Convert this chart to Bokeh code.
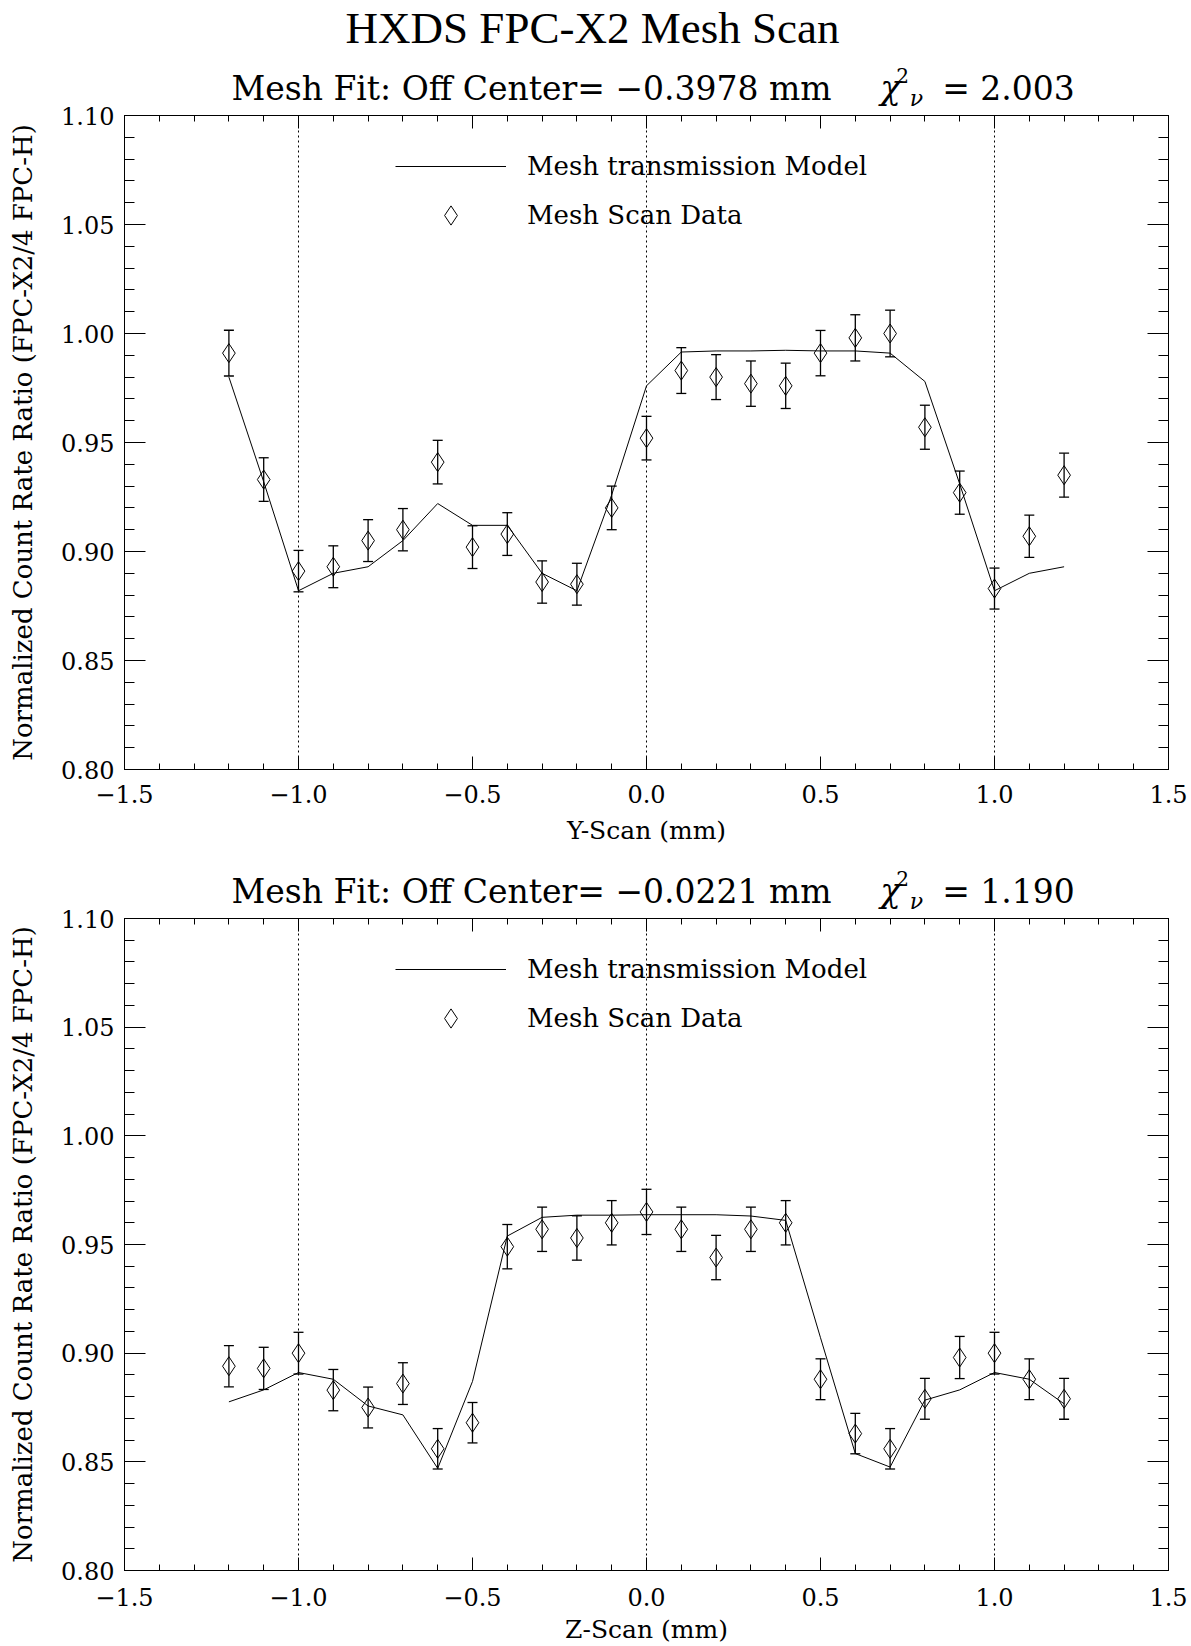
import numpy as np
from bokeh.plotting import figure
from bokeh.models import (Range1d, LinearAxis, FixedTicker, Span, Label, Legend,
                          LegendItem, Whisker, TeeHead, ColumnDataSource,
                          CustomJSTickFormatter)
from bokeh.layouts import column
from bokeh.embed import file_html
from bokeh.resources import INLINE

# ---------------- data ----------------
scan_positions = [-1.2, -1.1, -1.0, -0.9, -0.8, -0.7, -0.6, -0.5, -0.4, -0.3, -0.2, -0.1,
                  0.0, 0.1, 0.2, 0.3, 0.4, 0.5, 0.6, 0.7, 0.8, 0.9, 1.0, 1.1, 1.2]

y_scan_data = [0.991, 0.933, 0.891, 0.893, 0.905, 0.910, 0.941, 0.902, 0.908, 0.886, 0.885, 0.920,
               0.952, 0.983, 0.980, 0.977, 0.976, 0.991, 0.998, 1.000, 0.957, 0.927, 0.883, 0.907, 0.935]
y_scan_err = [0.0105, 0.0100, 0.0095, 0.0096, 0.0096, 0.0097, 0.0100, 0.0098, 0.0098, 0.0097, 0.0096, 0.0100,
              0.0100, 0.0105, 0.0103, 0.0104, 0.0104, 0.0104, 0.0106, 0.0107, 0.0101, 0.0099, 0.0094, 0.0097, 0.0101]
y_scan_model = [0.980, 0.932, 0.882, 0.890, 0.893, 0.905, 0.922, 0.912, 0.912, 0.890, 0.882, 0.926,
                0.976, 0.9915, 0.992, 0.992, 0.9923, 0.992, 0.992, 0.991, 0.978, 0.931, 0.882, 0.890, 0.893]

z_scan_data = [0.894, 0.893, 0.900, 0.883, 0.875, 0.886, 0.856, 0.868, 0.949, 0.957, 0.953, 0.960,
               0.965, 0.957, 0.944, 0.957, 0.960, 0.888, 0.863, 0.856, 0.879, 0.898, 0.900, 0.888, 0.879]
z_scan_err = [0.0095, 0.0097, 0.0096, 0.0095, 0.0094, 0.0096, 0.0093, 0.0093, 0.0102, 0.0102, 0.0102, 0.0102,
              0.0104, 0.0102, 0.0102, 0.0102, 0.0102, 0.0094, 0.0093, 0.0093, 0.0094, 0.0097, 0.0096, 0.0094, 0.0094]
z_scan_model = [0.8776, 0.8831, 0.8911, 0.8880, 0.8757, 0.8716, 0.8470, 0.8870, 0.9539, 0.9625, 0.9635, 0.9635,
                0.9637, 0.9637, 0.9637, 0.9631, 0.9611, 0.9071, 0.8538, 0.8476, 0.8784, 0.8831, 0.8911, 0.8880, 0.8767]

mesh_wire_positions = [-1.0, 0.0, 1.0]

x_tick_values = [-1.5, -1.0, -0.5, 0.0, 0.5, 1.0, 1.5]
x_tick_labels = ["\u22121.5", "\u22121.0", "\u22120.5", "0.0", "0.5", "1.0", "1.5"]
y_tick_values = [0.80, 0.85, 0.90, 0.95, 1.00, 1.05, 1.10]
y_tick_labels = ["0.80", "0.85", "0.90", "0.95", "1.00", "1.05", "1.10"]
x_minor_ticks = [round(v, 2) for v in np.arange(-1.5, 1.5001, 0.1)]
y_minor_ticks = [round(v, 3) for v in np.arange(0.80, 1.1001, 0.01)]

main_title = "HXDS FPC-X2 Mesh Scan"
y_label = "Normalized Count Rate Ratio (FPC-X2/4 FPC-H)"
panels = [
    dict(data=y_scan_data, err=y_scan_err, model=y_scan_model,
         fit_text="Mesh Fit: Off Center= \u22120.3978 mm", chi_value="= 2.003", xlabel="Y-Scan (mm)"),
    dict(data=z_scan_data, err=z_scan_err, model=z_scan_model,
         fit_text="Mesh Fit: Off Center= \u22120.0221 mm", chi_value="= 1.190", xlabel="Z-Scan (mm)"),
]

SERIF = "DejaVu Serif"
PAGE_W = 1191
LEFT = 124
FRAME_W = 1044
RIGHT = PAGE_W - LEFT - FRAME_W
OVERLAP = 12   # header strip overlaps the (transparent) top border of the panel below


def style_axis(ax, tick_in, minor_in, label_size):
    ax.axis_line_color = "black"
    ax.axis_line_width = 1
    ax.major_tick_line_color = "black"
    ax.minor_tick_line_color = "black"
    ax.major_tick_in = tick_in
    ax.major_tick_out = 0
    ax.minor_tick_in = minor_in
    ax.minor_tick_out = 0
    ax.major_label_text_font = SERIF
    ax.major_label_text_font_size = "24px"
    ax.major_label_text_color = "black"
    ax.axis_label_text_font = SERIF
    ax.axis_label_text_font_size = label_size
    ax.axis_label_text_font_style = "normal"
    ax.axis_label_text_color = "black"


def header(height, cfg, with_title):
    """Text-only strip (titles) above a panel; screen units from its frame bottom-left."""
    h = figure(frame_width=FRAME_W, frame_height=height,
               min_border_left=LEFT, min_border_right=RIGHT,
               min_border_top=0, min_border_bottom=0,
               x_range=Range1d(0, 1), y_range=Range1d(0, 1),
               x_axis_type=None, y_axis_type=None,
               output_backend="svg", toolbar_location=None,
               margin=(0, 0, -OVERLAP, 0))
    h.outline_line_color = None
    h.background_fill_alpha = 0
    h.border_fill_alpha = 0
    h.grid.visible = False

    def lab(x, y, text, size, style="normal", font=SERIF):
        h.add_layout(Label(x=x, y=y, x_units="screen", y_units="screen", text=text,
                           text_font=font, text_font_size=size, text_font_style=style,
                           text_align="center", text_baseline="middle",
                           text_color="black"))

    lab(407, 24, cfg["fit_text"], "33px")
    lab(766, 26, "\u03c7", "34px", "italic")
    lab(778, 37, "2", "20px")
    lab(792, 14, "\u03bd", "22px", "italic")
    lab(884, 24, cfg["chi_value"], "33px")
    if with_title:
        lab(468, height - 27, main_title, "45px", font="Liberation Serif")
    return h


def make_panel(cfg, frame_h, border_top, border_bottom, tick_standoff, label_standoff):
    p = figure(frame_width=FRAME_W, frame_height=frame_h,
               min_border_left=LEFT, min_border_right=RIGHT,
               min_border_top=border_top, min_border_bottom=border_bottom,
               x_range=Range1d(-1.5, 1.5), y_range=Range1d(0.80, 1.10),
               x_axis_type=None, y_axis_type=None,
               output_backend="svg", toolbar_location=None)
    p.background_fill_color = "white"
    p.border_fill_alpha = 0
    p.outline_line_color = "black"
    p.outline_line_width = 1

    xt = FixedTicker(ticks=x_tick_values, minor_ticks=x_minor_ticks)
    yt = FixedTicker(ticks=y_tick_values, minor_ticks=y_minor_ticks)
    blank = CustomJSTickFormatter(code="return ''")

    xb = LinearAxis(ticker=xt, axis_label=cfg["xlabel"],
                    major_label_overrides=dict(zip(x_tick_values, x_tick_labels)))
    style_axis(xb, 13, 6, "25px")
    xb.major_label_standoff = tick_standoff
    xb.axis_label_standoff = label_standoff
    p.add_layout(xb, "below")

    xa = LinearAxis(ticker=xt, formatter=blank)
    style_axis(xa, 13, 6, "25px")
    xa.major_label_standoff = 0
    xa.major_label_text_font_size = "0px"
    p.add_layout(xa, "above")

    yl = LinearAxis(ticker=yt, axis_label=y_label,
                    major_label_overrides=dict(zip(y_tick_values, y_tick_labels)))
    style_axis(yl, 21, 10, "26px")
    yl.major_label_standoff = 10
    yl.axis_label_standoff = 20
    p.add_layout(yl, "left")

    yr = LinearAxis(ticker=yt, formatter=blank)
    style_axis(yr, 21, 10, "26px")
    yr.major_label_standoff = 0
    yr.major_label_text_font_size = "0px"
    p.add_layout(yr, "right")

    for loc in mesh_wire_positions:
        p.add_layout(Span(location=loc, dimension="height", line_color="black",
                          line_width=1, line_dash="2 3"))

    upper = [d + e for d, e in zip(cfg["data"], cfg["err"])]
    lower = [d - e for d, e in zip(cfg["data"], cfg["err"])]
    src = ColumnDataSource(dict(x=scan_positions, y=cfg["data"], upper=upper, lower=lower,
                                model=cfg["model"]))

    line_r = p.line("x", "model", source=src, line_color="black", line_width=1)
    w = Whisker(base="x", upper="upper", lower="lower", source=src,
                line_color="black", line_width=1.3,
                upper_head=TeeHead(size=10, line_color="black", line_width=1.3),
                lower_head=TeeHead(size=10, line_color="black", line_width=1.3))
    p.add_layout(w)
    pts_r = p.scatter("x", "y", source=src, marker="diamond", size=19,
                      fill_alpha=0, line_color="black", line_width=1)

    legend = Legend(items=[LegendItem(label="Mesh transmission Model", renderers=[line_r]),
                           LegendItem(label="Mesh Scan Data", renderers=[pts_r])],
                    location=(271, frame_h - 124), glyph_width=111, glyph_height=48,
                    label_height=48, label_standoff=21, spacing=1, padding=0, margin=0,
                    border_line_color=None, background_fill_alpha=0,
                    label_text_font=SERIF, label_text_font_size="26px",
                    label_text_color="black")
    p.add_layout(legend)
    return p


# vertical plan (page px): h1 0-112, p1 100-848 (frame 115-769), h2 848-915, p2 903-1646 (frame 918-1570)
h1 = header(112, panels[0], True)
p1 = make_panel(panels[0], 654, 3 + OVERLAP, 79, 15, 10)
h2 = header(67, panels[1], False)
p2 = make_panel(panels[1], 652, 3 + OVERLAP, 76, 17, 6)

layout = column(h1, p1, h2, p2, spacing=0)
open("out.html", "w").write(file_html(layout, INLINE, title="HXDS FPC-X2 Mesh Scan"))
